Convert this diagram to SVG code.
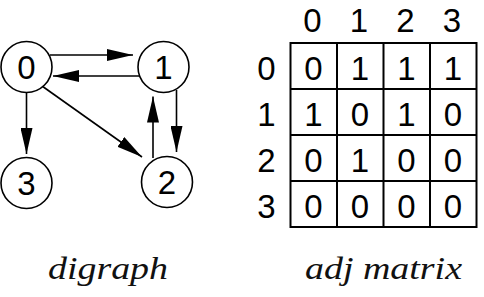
<svg xmlns="http://www.w3.org/2000/svg" width="484" height="297" viewBox="0 0 484 297">
<style>
.node circle{fill:#fff;stroke:#000;stroke-width:1.6}
.lbl{font-family:"Liberation Sans",Arial,sans-serif;font-size:33px;fill:#000;text-anchor:middle}
.edge{stroke:#000;stroke-width:1.6;fill:none;marker-end:url(#ah)}
.grid{fill:none;stroke:#000;stroke-width:2}
.cap{font-family:"Liberation Serif","Times New Roman",serif;font-style:italic;font-size:32px;fill:#111}
</style>
<defs>
<marker id="ah" markerUnits="userSpaceOnUse" markerWidth="26" markerHeight="12" viewBox="0 0 26 12" refX="26" refY="6" orient="auto">
<path d="M0,0 L26,6 L0,12 z" fill="#000"/>
</marker>
</defs>
<rect width="484" height="297" fill="#fff"/>
<g id="connectors">
<path class="edge" d="M50,55 L133,55"/>
<path class="edge" d="M139,76 L53,76"/>
<path class="edge" d="M26.5,92.5 L26.5,154"/>
<path class="edge" d="M42,86 L142,157"/>
<path class="edge" d="M176.5,90 L176.5,152"/>
<path class="edge" d="M153,158 L153,96.5"/>
</g>
<g id="node0" class="node"><circle cx="26.5" cy="67" r="25.5"/><text class="lbl" x="26.5" y="79">0</text></g>
<g id="node1" class="node"><circle cx="163.5" cy="67" r="25.5"/><text class="lbl" x="163.5" y="79">1</text></g>
<g id="node2" class="node"><circle cx="167" cy="182" r="25.5"/><text class="lbl" x="167" y="194">2</text></g>
<g id="node3" class="node"><circle cx="26.5" cy="183" r="25.5"/><text class="lbl" x="26.5" y="195">3</text></g>
<g id="matrix">
<rect class="grid" x="290.5" y="43" width="186" height="184"/>
<path class="grid" d="M337,43V227M383.5,43V227M430,43V227M290.5,89H476.5M290.5,135H476.5M290.5,181H476.5"/>
<g class="lbl">
<text x="312.5" y="31.5">0</text><text x="359" y="31.5">1</text><text x="405.5" y="31.5">2</text><text x="452" y="31.5">3</text>
<text x="266.5" y="79.5">0</text><text x="266.5" y="125.5">1</text><text x="266.5" y="171.5">2</text><text x="266.5" y="217.5">3</text>
<text x="313.5" y="79.5">0</text><text x="360" y="79.5">1</text><text x="406.5" y="79.5">1</text><text x="453" y="79.5">1</text>
<text x="313.5" y="125.5">1</text><text x="360" y="125.5">0</text><text x="406.5" y="125.5">1</text><text x="453" y="125.5">0</text>
<text x="313.5" y="171.5">0</text><text x="360" y="171.5">1</text><text x="406.5" y="171.5">0</text><text x="453" y="171.5">0</text>
<text x="313.5" y="217.5">0</text><text x="360" y="217.5">0</text><text x="406.5" y="217.5">0</text><text x="453" y="217.5">0</text>
</g>
</g>
<text class="cap" x="48" y="279" textLength="120" lengthAdjust="spacingAndGlyphs">digraph</text>
<text class="cap" x="305" y="279" textLength="157" lengthAdjust="spacingAndGlyphs">adj matrix</text>
</svg>
